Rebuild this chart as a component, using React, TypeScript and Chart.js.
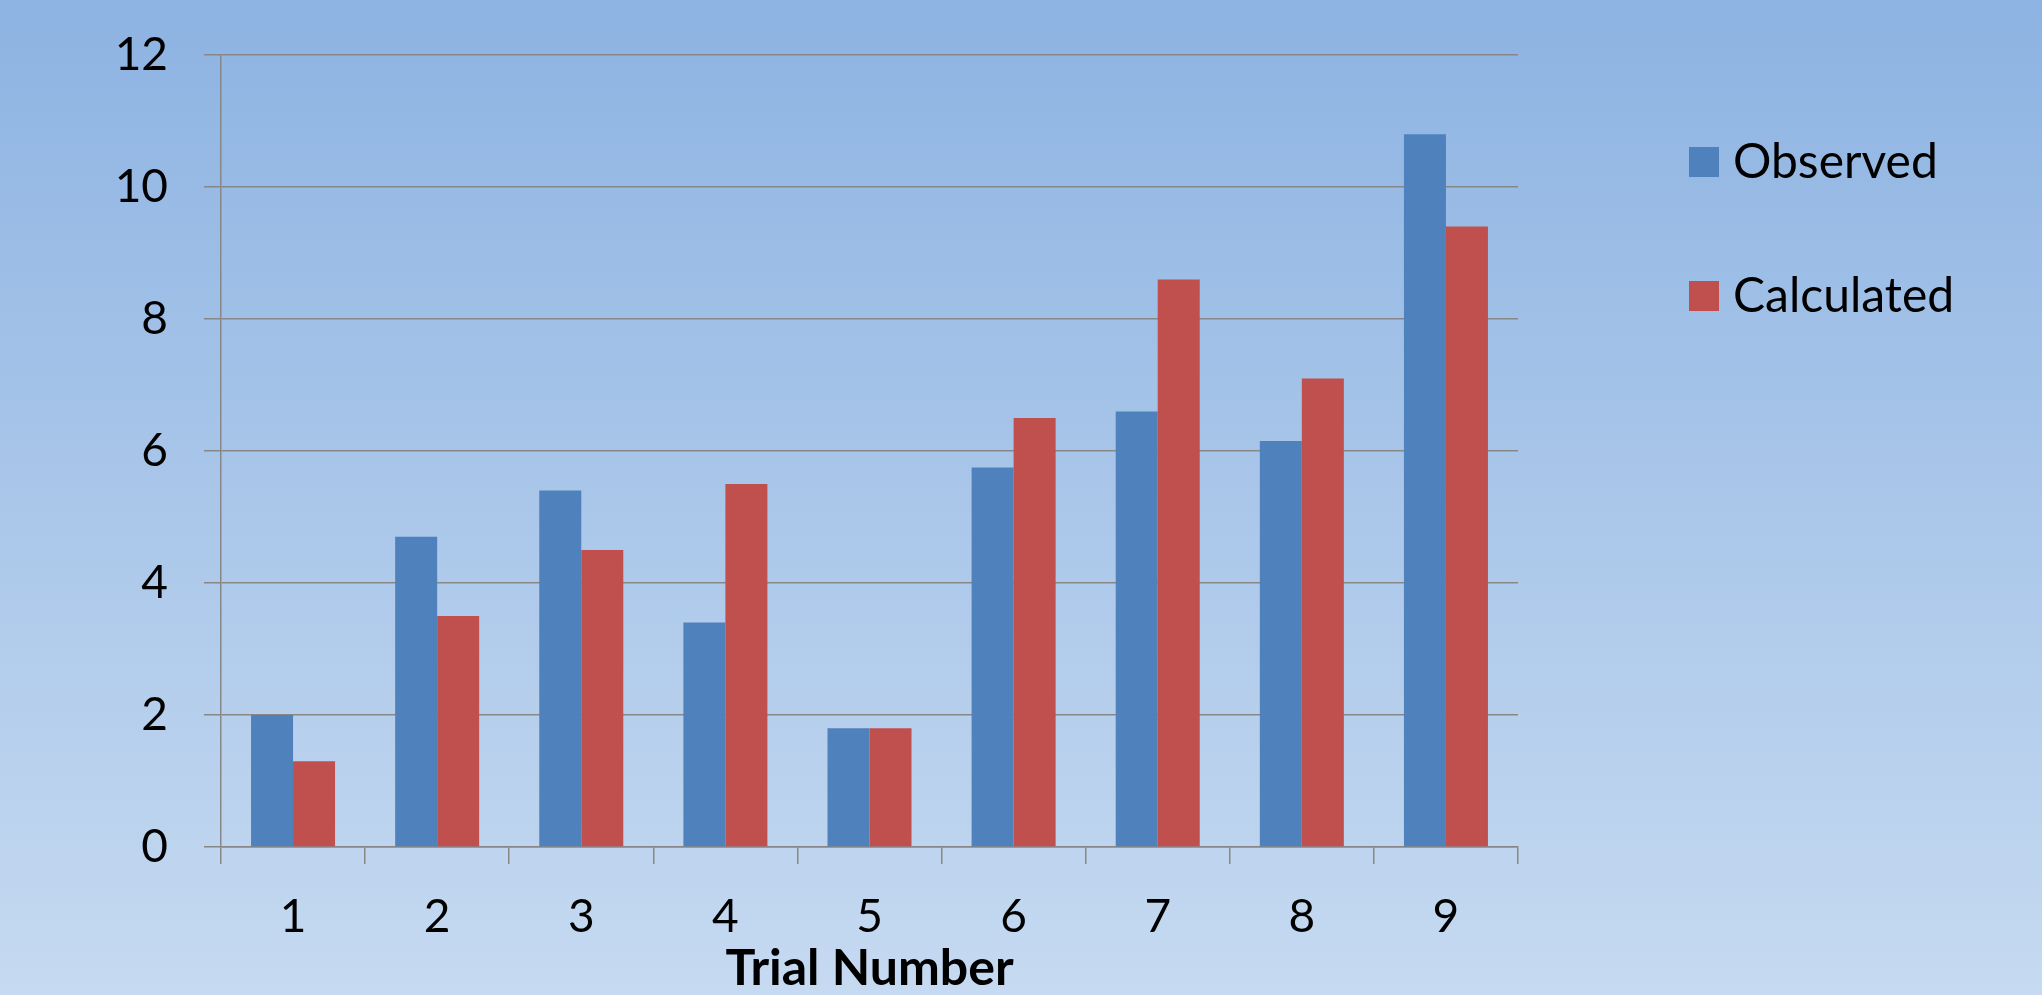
import React, { useEffect, useRef } from "react";
import { Chart, registerables } from "chart.js";

Chart.register(...registerables);

// Trial numbers along the x axis
const trials = ["1", "2", "3", "4", "5", "6", "7", "8", "9"];
// Measured values per trial
const observed = [2.0, 4.7, 5.4, 3.4, 1.8, 5.75, 6.6, 6.15, 10.8];
// Model values per trial
const calculated = [1.3, 3.5, 4.5, 5.5, 1.8, 6.5, 8.6, 7.1, 9.4];
// Series names shown in the legend
const seriesNames = ["Observed", "Calculated"];
const seriesColors = ["#4F81BD", "#C0504D"];

const W = 2042;
const H = 995;
const FONT = "Lato, 'Open Sans', sans-serif";
const AXIS_GREY = "#878787";

// Slide-style vertical gradient behind everything
const backgroundPlugin = {
  id: "slideBackground",
  beforeDraw(chart: any) {
    const { ctx, width, height } = chart;
    const g = ctx.createLinearGradient(0, 0, 0, height);
    g.addColorStop(0, "#8DB3E2");
    g.addColorStop(1, "#C6DAF1");
    ctx.save();
    ctx.fillStyle = g;
    ctx.fillRect(0, 0, width, height);
    ctx.restore();
  },
};

// Legend with square swatches stacked on the right
const sideLegendPlugin = {
  id: "sideLegend",
  afterDraw(chart: any) {
    const { ctx, chartArea } = chart;
    const x0 = chartArea.right + 171;
    const y0 = 147;
    const step = 134;
    const box = 30;
    ctx.save();
    ctx.font = `48px ${FONT}`;
    ctx.textBaseline = "alphabetic";
    ctx.textAlign = "left";
    chart.data.datasets.forEach((ds: any, i: number) => {
      const y = y0 + i * step;
      ctx.fillStyle = ds.backgroundColor;
      ctx.fillRect(x0, y, box, box);
      ctx.fillStyle = "#000000";
      ctx.fillText(ds.label, x0 + 44, y + box + 1);
    });
    ctx.restore();
  },
};

export default function App() {
  const canvasRef = useRef<HTMLCanvasElement | null>(null);

  useEffect(() => {
    document.body.style.margin = "0";
    const canvas = canvasRef.current;
    if (!canvas) return;
    const chart = new Chart(canvas, {
      type: "bar",
      data: {
        labels: trials,
        datasets: [
          {
            label: seriesNames[0],
            data: observed,
            backgroundColor: seriesColors[0],
            categoryPercentage: 0.583,
            barPercentage: 1.0,
          },
          {
            label: seriesNames[1],
            data: calculated,
            backgroundColor: seriesColors[1],
            categoryPercentage: 0.583,
            barPercentage: 1.0,
          },
        ],
      },
      options: {
        responsive: false,
        animation: false,
        devicePixelRatio: 1,
        layout: { padding: { left: 0, top: 55, right: W - 1518, bottom: 0 } },
        plugins: {
          legend: { display: false },
          tooltip: { enabled: false },
        },
        scales: {
          x: {
            offset: true,
            grid: {
              offset: true,
              drawOnChartArea: false,
              drawTicks: true,
              tickLength: 17,
              color: AXIS_GREY,
              lineWidth: 1.5,
            },
            border: { display: true, color: AXIS_GREY, width: 1.5 },
            ticks: {
              color: "#000000",
              font: { family: FONT, size: 46, lineHeight: 1.0 },
              padding: 30,
              maxRotation: 0,
            },
            title: {
              display: true,
              text: "Trial Number",
              color: "#000000",
              font: { family: FONT, size: 50, weight: "bold", lineHeight: 1.0 },
              padding: { top: 0, bottom: 1 },
            },
            afterFit(scale: any) {
              scale.height = H - 847;
            },
          },
          y: {
            min: 0,
            max: 12,
            ticks: {
              stepSize: 2,
              color: "#000000",
              font: { family: FONT, size: 46, lineHeight: 0.8 },
              padding: 36,
            },
            grid: {
              color: AXIS_GREY,
              lineWidth: 1.5,
              tickLength: 17,
              drawTicks: true,
            },
            border: { display: true, color: AXIS_GREY, width: 1.5 },
            afterFit(scale: any) {
              scale.width = 221;
            },
          },
        },
      },
      plugins: [backgroundPlugin, sideLegendPlugin],
    });
    return () => chart.destroy();
  }, []);

  return (
    <div>
      <canvas
        ref={canvasRef}
        width={W}
        height={H}
        style={{ display: "block", width: W, height: H }}
      />
    </div>
  );
}
